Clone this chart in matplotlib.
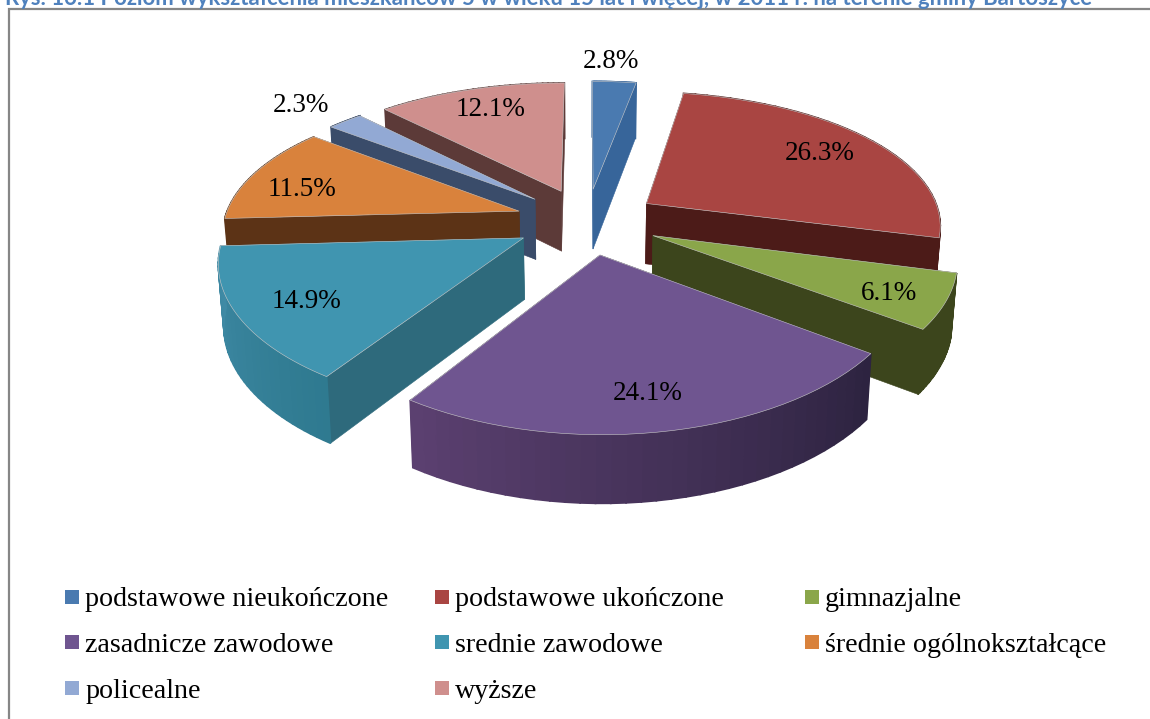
import matplotlib
matplotlib.use('Agg')
import matplotlib.pyplot as plt
from matplotlib.colors import to_rgb
from matplotlib.patches import Polygon, Rectangle
import numpy

title = 'Rys. 16.1 Poziom wykształcenia mieszkańców 5 w wieku 15 lat i więcej, w 2011 r. na terenie gminy Bartoszyce'
categories = ['podstawowe nieukończone', 'podstawowe ukończone', 'gimnazjalne',
              'zasadnicze zawodowe', 'srednie zawodowe', 'średnie ogólnokształcące',
              'policealne', 'wyższe']
values = [2.8, 26.3, 6.1, 24.1, 14.9, 11.5, 2.3, 12.1]

top_colors = ['#4a7ab0', '#a94542', '#8aa64a', '#6f5590', '#4095b0', '#d9823c', '#92a9d4', '#cf8f8d']
side_colors = ['#37659a', '#4c1b18', '#3c451c', '#2d2340', '#2e6a7c', '#5c3316', '#3a4c6a', '#5c3a38']
# outer wall shading, from the right end of the arc to the left end
arc_start = ['#37659a', '#4c1b18', '#3c451c', '#2d2340', '#2f7a90', '#5c3316', '#3a4c6a', '#5c3a38']
arc_end = ['#37659a', '#4c1b18', '#3c451c', '#5b4070', '#3f8aa5', '#5c3316', '#3a4c6a', '#5c3a38']
label_xy = [(611, 62), (820, 154), (889, 293), (648, 393),
            (306, 301), (302, 189), (301, 106), (491, 110)]
draw_order = [7, 6, 5, 4, 0, 1, 2, 3]

cx, cy = 587, 221
radius = 295
tilt = 0.461
persp_x = 0.145
persp_y = 0.17
depth = 61
explode = 0.244
converge = 0.985


def project(u, v, down=0.0):
    sx = 1 / (1 + persp_x * v)
    sy = 1 / (1 + persp_y * v)
    shrink = converge if down else 1.0
    return cx + radius * u * sx * shrink, cy - radius * tilt * v * sy + down * numpy.sqrt(sy)


def slice_points(start, stop, r=1.0, n=36):
    mid = numpy.radians((start + stop) / 2)
    ang = numpy.radians(numpy.linspace(start, stop, n))
    u = explode * numpy.sin(mid) + r * numpy.sin(ang)
    v = explode * numpy.cos(mid) + r * numpy.cos(ang)
    return u, v, explode * numpy.sin(mid), explode * numpy.cos(mid)


def draw_wall(ax, pts_u, pts_v, color, z, lw=0.4):
    x0, y0 = project(pts_u, pts_v)
    x1, y1 = project(pts_u, pts_v, depth)
    poly = numpy.column_stack([numpy.r_[x0, x1[::-1]], numpy.r_[y0, y1[::-1]]])
    ax.add_patch(Polygon(poly, closed=True, fc=color, ec=color, lw=lw, zorder=z))


def draw_slice(ax, start, stop, i, z):
    u, v, au, av = slice_points(start, stop)
    walls = [(numpy.array([au, u[0]]), numpy.array([av, v[0]])),
             (numpy.array([au, u[-1]]), numpy.array([av, v[-1]]))]
    # back walls first so the front ones cover them
    walls.sort(key=lambda w: -w[1].mean())
    for k, (wu, wv) in enumerate(walls):
        draw_wall(ax, wu, wv, side_colors[i], z + k * 0.01)
    c0 = numpy.array(to_rgb(arc_start[i]))
    c1 = numpy.array(to_rgb(arc_end[i]))
    for k in range(len(u) - 1):
        frac = k / (len(u) - 2)
        draw_wall(ax, u[k:k + 2], v[k:k + 2], tuple(c0 + (c1 - c0) * frac), z + 0.1 + k * 0.001, lw=1.2)
    x, y = project(numpy.r_[au, u], numpy.r_[av, v])
    ax.add_patch(Polygon(numpy.column_stack([x, y]), closed=True, fc=top_colors[i],
                         ec='#c9c9c9', lw=0.4, zorder=z + 0.2))


fig = plt.figure(figsize=(11.5, 7.19), dpi=100)
ax = fig.add_axes([0, 0, 1, 1])
ax.set_xlim(0, 1150)
ax.set_ylim(719, 0)
ax.axis('off')

# frame of the chart, cut by the page on the right and at the bottom
ax.plot([8.5, 8.5, 1150], [719, 9, 9], color='#868686', lw=1.6, solid_joinstyle='miter')
ax.text(5, 5, title, color='#4f81bd', family='Lato', weight='bold', fontsize=15.95,
        ha='left', va='baseline')

edges = numpy.cumsum([0] + values) / sum(values) * 360
for z, i in enumerate(draw_order):
    draw_slice(ax, edges[i], edges[i + 1], i, z + 2)

for i, v in enumerate(values):
    ax.text(label_xy[i][0], label_xy[i][1], '{0:.1f}%'.format(v), family='Liberation Serif',
            fontsize=19.5, ha='center', va='center', color='black', zorder=30)

col_x = [65, 435, 805]
row_y = [597, 642, 688]
for i, name in enumerate(categories):
    x = col_x[i % 3]
    y = row_y[i // 3]
    ax.add_patch(Rectangle((x, y - 7), 14, 14, fc=top_colors[i], ec='none', zorder=30))
    ax.text(x + 20, y, name, family='Liberation Serif', fontsize=20.2, ha='left',
            va='center_baseline', color='black', zorder=30)

fig.savefig('out.png', dpi=100)
